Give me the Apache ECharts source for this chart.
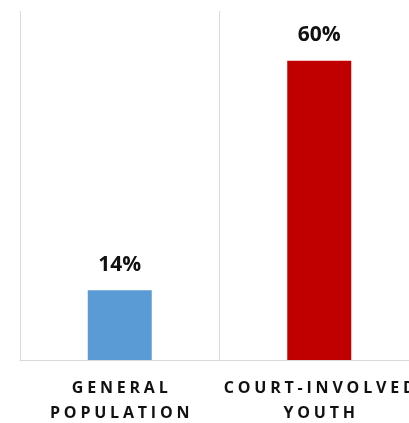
<!DOCTYPE html>
<html>
<head>
<meta charset="utf-8">
<script src="https://cdn.jsdelivr.net/npm/echarts@6/dist/echarts.min.js"></script>
<style>
  html, body { margin: 0; padding: 0; background: #fff; }
  #chart { width: 409px; height: 423px; }
</style>
</head>
<body>
<div id="chart"></div>
<script>
const categories = ['GENERAL POPULATION', 'COURT-INVOLVED YOUTH'];
const values = [14, 60];
const barColors = ['#5B9BD5', '#C00000'];

// spread each letter out a little (the original uses expanded letter spacing)
function spaced(label) {
  return label.split(' ').map(word =>
    word.split('').map(ch => '{l|' + ch + '}').join('')
  ).join('\n');
}

const chart = echarts.init(document.getElementById('chart'));
chart.setOption({
  animation: false,
  grid: { left: 20, top: 11, width: 399, bottom: 63, outerBoundsMode: 'none', containLabel: false },
  xAxis: {
    type: 'category',
    data: categories,
    axisLine: { lineStyle: { color: '#d9d9d9', width: 1 } },
    axisTick: { show: false },
    splitLine: { show: true, lineStyle: { color: '#d9d9d9', width: 1 } },
    axisLabel: {
      margin: 16,
      interval: 0,
      hideOverlap: false,
      formatter: spaced,
      rich: {
        l: {
          fontFamily: 'Open Sans',
          fontWeight: 'bold',
          fontSize: 16,
          color: '#111',
          lineHeight: 25,
          padding: [0, 1.9, 0, 1.9]
        }
      }
    }
  },
  yAxis: {
    type: 'value',
    min: 0,
    max: 70,
    show: false,
    splitLine: { show: false }
  },
  series: [{
    type: 'bar',
    barWidth: 64,
    data: values.map((v, i) => ({ value: v, itemStyle: { color: barColors[i] } })),
    label: {
      show: true,
      position: 'top',
      distance: 15,
      formatter: '{c}%',
      fontFamily: 'Open Sans',
      fontWeight: 'bold',
      fontSize: 21,
      color: '#111'
    }
  }]
});
</script>
</body>
</html>
